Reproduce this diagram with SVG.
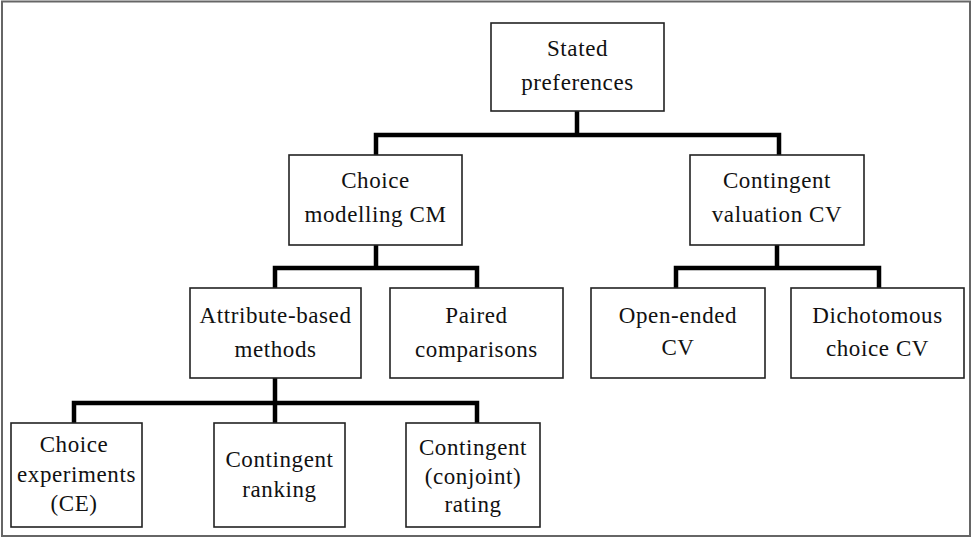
<svg xmlns="http://www.w3.org/2000/svg" width="972" height="538" viewBox="0 0 972 538">
<style>
.box{fill:#fff;stroke:#222;stroke-width:1.6}
.t{font-family:"Liberation Serif","Times New Roman",serif;font-size:23px;letter-spacing:0.6px;fill:#111;text-anchor:middle}
.c{fill:none;stroke:#000;stroke-width:4.5;stroke-linecap:square}
</style>
<rect x="2" y="1.5" width="968" height="534.5" fill="#fff" stroke="#666" stroke-width="2"/>
<g id="connectors">
<path class="c" d="M577 111V135M376 155V135H779V155"/>
<path class="c" d="M376 245V268M275 288V268H477V288"/>
<path class="c" d="M777 245V268M676 288V268H879V288"/>
<path class="c" d="M275 378V423M74 423V403H477V423"/>
</g>
<g id="stated"><rect class="box" x="491" y="23" width="173" height="88"/><text class="t" x="577.5" y="56">Stated</text><text class="t" x="577.5" y="90">preferences</text></g>
<g id="cm"><rect class="box" x="289" y="155" width="173" height="90"/><text class="t" x="375.5" y="188">Choice</text><text class="t" x="375.5" y="222">modelling CM</text></g>
<g id="cv"><rect class="box" x="690" y="155" width="174" height="90"/><text class="t" x="777" y="188">Contingent</text><text class="t" x="777" y="222">valuation CV</text></g>
<g id="attr"><rect class="box" x="190" y="288" width="171" height="90"/><text class="t" x="275.5" y="323">Attribute-based</text><text class="t" x="275.5" y="357">methods</text></g>
<g id="paired"><rect class="box" x="390" y="288" width="173" height="90"/><text class="t" x="476.5" y="323">Paired</text><text class="t" x="476.5" y="357">comparisons</text></g>
<g id="open"><rect class="box" x="591" y="288" width="174" height="90"/><text class="t" x="678" y="323">Open-ended</text><text class="t" x="678" y="355">CV</text></g>
<g id="dich"><rect class="box" x="791" y="288" width="173" height="90"/><text class="t" x="877.5" y="323">Dichotomous</text><text class="t" x="877.5" y="356">choice CV</text></g>
<g id="ce"><rect class="box" x="11" y="423" width="131" height="104"/><text class="t" x="74" y="452">Choice</text><text class="t" x="76.5" y="482">experiments</text><text class="t" x="74" y="511">(CE)</text></g>
<g id="ranking"><rect class="box" x="214" y="423" width="131" height="104"/><text class="t" x="279.5" y="467">Contingent</text><text class="t" x="279.5" y="497">ranking</text></g>
<g id="rating"><rect class="box" x="406" y="423" width="134" height="104"/><text class="t" x="473" y="455">Contingent</text><text class="t" x="473" y="484">(conjoint)</text><text class="t" x="473" y="512">rating</text></g>
</svg>
